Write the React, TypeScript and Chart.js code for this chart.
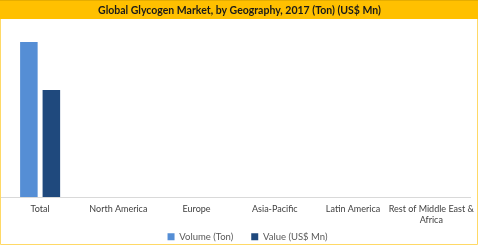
import React, { useEffect, useRef } from "react";
import { Chart, registerables } from "chart.js";

Chart.register(...registerables);

const categories: (string | string[])[] = [
  "Total",
  "North America",
  "Europe",
  "Asia-Pacific",
  "Latin America",
  ["Rest of Middle East &", "Africa"],
];
const volumeTon: (number | null)[] = [1610, null, null, null, null, null];
const valueUsdMn: (number | null)[] = [1110, null, null, null, null, null];
const titleText = "Global Glycogen Market, by Geography, 2017 (Ton) (US$ Mn)";

const frame = {
  id: "frame",
  beforeDraw(chart: any) {
    const { ctx, width, height } = chart;
    ctx.save();
    ctx.fillStyle = "#ffffff";
    ctx.fillRect(0, 0, width, height);
    ctx.fillStyle = "#FFC000";
    ctx.fillRect(0, 0, 478, 19);
    ctx.fillStyle = "#E6AD00";
    ctx.fillRect(0, 0, 478, 1);
    ctx.strokeStyle = "#FFD966";
    ctx.lineWidth = 1;
    ctx.beginPath();
    ctx.moveTo(0.5, 19);
    ctx.lineTo(0.5, 244.5);
    ctx.lineTo(477.5, 244.5);
    ctx.lineTo(477.5, 19);
    ctx.stroke();
    ctx.restore();
  },
  afterLayout(chart: any) {
    // lift the legend row so it sits just below the two-line category labels
    const lg = chart.legend;
    if (lg) {
      lg.top -= 13;
      lg.left += 8;
      lg.right += 8;
    }
  },
};

export default function App() {
  const ref = useRef<HTMLCanvasElement>(null);
  useEffect(() => {
    document.body.style.margin = "0";
    const chart = new Chart(ref.current!, {
      type: "bar",
      data: {
        labels: categories,
        datasets: [
          { label: "Volume (Ton)", data: volumeTon, backgroundColor: "#558ED5" },
          { label: "Value (US$ Mn)", data: valueUsdMn, backgroundColor: "#1F497D" },
        ],
      },
      options: {
        responsive: false,
        animation: false,
        layout: { padding: { left: 1, right: 2, bottom: 0 } },
        datasets: { bar: { barPercentage: 0.78, categoryPercentage: 0.575 } },
        plugins: {
          title: {
            display: true,
            text: titleText,
            color: "#1a1a1a",
            font: { family: "Lato", size: 10.5, weight: "bold" },
            padding: { top: 4.5, bottom: 6.5 },
          },
          legend: {
            position: "bottom",
            maxHeight: 19,
            labels: {
              color: "#595959",
              font: { family: "Lato", size: 9.5 },
              boxWidth: 7,
              boxHeight: 7,
              padding: 18,
            },
          },
          tooltip: { enabled: false },
        },
        scales: {
          x: {
            grid: { display: false, drawTicks: false },
            border: { display: true, color: "#D9D9D9" },
            ticks: {
              color: "#404040",
              font: { family: "Lato", size: 9, lineHeight: 1.25 },
              maxRotation: 0,
              autoSkip: false,
              padding: 6,
            },
            afterFit(scale: any) {
              scale.height = 30;
            },
          },
          y: { display: false, min: 0, max: 1800 },
        },
      },
      plugins: [frame],
    });
    return () => chart.destroy();
  }, []);
  return <canvas ref={ref} width={480} height={246} style={{ display: "block" }} />;
}
